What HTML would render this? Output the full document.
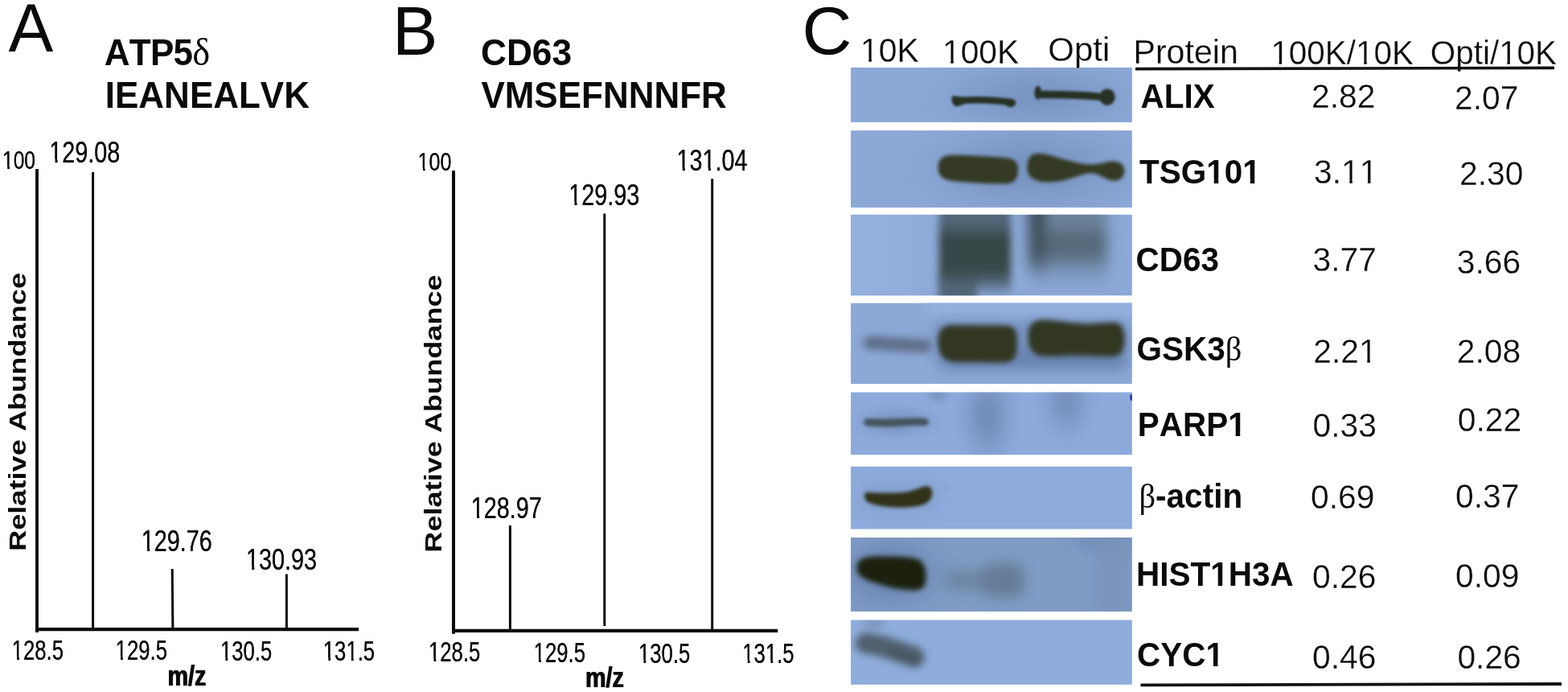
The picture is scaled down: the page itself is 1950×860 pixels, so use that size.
<!DOCTYPE html>
<html lang="en">
<head>
<meta charset="utf-8">
<title>Figure: mass spectra and western blot quantification</title>
<style>
  html, body { margin: 0; padding: 0; background: #ffffff; }
  body { width: 1950px; height: 860px; overflow: hidden; }
  svg { display: block; }
  text { font-family: "Liberation Sans", sans-serif; fill: #0a0a0a; font-kerning: none; }
  .b { font-weight: bold; }
  .sym { font-family: "Liberation Serif", serif; font-weight: normal; }
  .ax { stroke: #0a0a0a; fill: none; }
  .peak { stroke: #0a0a0a; stroke-width: 3; fill: none; }
</style>
</head>
<body>
<svg width="1950" height="860" viewBox="0 0 1950 860">
<defs>
  <filter id="hb" x="-5%" y="-10%" width="110%" height="120%" color-interpolation-filters="sRGB"><feOffset in="SourceGraphic" dx="0.6" dy="0" result="o"/><feMerge><feMergeNode in="SourceGraphic"/><feMergeNode in="o"/></feMerge></filter>
  <filter id="b1" filterUnits="userSpaceOnUse" x="1040" y="60" width="390" height="800" color-interpolation-filters="sRGB"><feGaussianBlur stdDeviation="1.5"/></filter>
  <filter id="b2" filterUnits="userSpaceOnUse" x="1040" y="60" width="390" height="800" color-interpolation-filters="sRGB"><feGaussianBlur stdDeviation="1.9"/></filter>
  <filter id="b3" filterUnits="userSpaceOnUse" x="1040" y="60" width="390" height="800" color-interpolation-filters="sRGB"><feGaussianBlur stdDeviation="3.4"/></filter>
  <filter id="b5" filterUnits="userSpaceOnUse" x="1040" y="60" width="390" height="800" color-interpolation-filters="sRGB"><feGaussianBlur stdDeviation="5"/></filter>
  <filter id="b8" filterUnits="userSpaceOnUse" x="1040" y="60" width="390" height="800" color-interpolation-filters="sRGB"><feGaussianBlur stdDeviation="8"/></filter>
  <clipPath id="c1"><rect x="1058.1" y="83.9" width="349.7" height="68"/></clipPath>
  <clipPath id="c2"><rect x="1058.1" y="162.2" width="349.7" height="95.7"/></clipPath>
  <clipPath id="c3"><rect x="1058.1" y="266.8" width="349.7" height="100.5"/></clipPath>
  <clipPath id="c4"><rect x="1058.1" y="376.7" width="349.7" height="100.3"/></clipPath>
  <clipPath id="c5"><rect x="1058.1" y="487.5" width="349.7" height="77.7"/></clipPath>
  <clipPath id="c6"><rect x="1058.1" y="579.8" width="349.7" height="77.7"/></clipPath>
  <clipPath id="c7"><rect x="1058.1" y="668" width="349.7" height="92"/></clipPath>
  <clipPath id="c8"><rect x="1058.1" y="770.5" width="349.7" height="80.3"/></clipPath>
  <linearGradient id="g3a" x1="0" y1="0" x2="0" y2="1">
    <stop offset="0" stop-color="#5b7188"/>
    <stop offset="0.22" stop-color="#4f6475"/>
    <stop offset="0.40" stop-color="#364546"/>
    <stop offset="0.70" stop-color="#394949"/>
    <stop offset="0.82" stop-color="#4a5e6c" stop-opacity="0.9"/>
    <stop offset="0.95" stop-color="#5f7690" stop-opacity="0.25"/>
    <stop offset="1" stop-color="#5f7690" stop-opacity="0"/>
  </linearGradient>
  <linearGradient id="g3b" x1="0" y1="0" x2="0" y2="1">
    <stop offset="0" stop-color="#6a829c"/>
    <stop offset="0.25" stop-color="#6b829b"/>
    <stop offset="0.42" stop-color="#546776"/>
    <stop offset="0.60" stop-color="#586c7e"/>
    <stop offset="0.80" stop-color="#6f88ab" stop-opacity="0.5"/>
    <stop offset="1" stop-color="#6f88ab" stop-opacity="0"/>
  </linearGradient>
  <linearGradient id="g3c" x1="0" y1="0" x2="0" y2="1">
    <stop offset="0" stop-color="#35454e"/>
    <stop offset="0.7" stop-color="#42545f"/>
    <stop offset="1" stop-color="#42545f" stop-opacity="0"/>
  </linearGradient>
  <linearGradient id="g3l" x1="0" y1="0" x2="1" y2="0">
    <stop offset="0" stop-color="#9bb6e5" stop-opacity="0.55"/>
    <stop offset="0.6" stop-color="#9bb6e5" stop-opacity="0.4"/>
    <stop offset="1" stop-color="#9bb6e5" stop-opacity="0"/>
  </linearGradient>
  <radialGradient id="hd" cx="0.5" cy="0.5" r="0.5">
    <stop offset="0.000" stop-color="#5f79a5" stop-opacity="1.000"/>
    <stop offset="0.111" stop-color="#5f79a5" stop-opacity="0.963"/>
    <stop offset="0.222" stop-color="#5f79a5" stop-opacity="0.860"/>
    <stop offset="0.333" stop-color="#5f79a5" stop-opacity="0.710"/>
    <stop offset="0.444" stop-color="#5f79a5" stop-opacity="0.540"/>
    <stop offset="0.556" stop-color="#5f79a5" stop-opacity="0.376"/>
    <stop offset="0.667" stop-color="#5f79a5" stop-opacity="0.235"/>
    <stop offset="0.778" stop-color="#5f79a5" stop-opacity="0.126"/>
    <stop offset="0.889" stop-color="#5f79a5" stop-opacity="0.049"/>
    <stop offset="1.000" stop-color="#5f79a5" stop-opacity="0.000"/>
  </radialGradient>
</defs>

<g id="panelA">
  <text font-size="82" transform="translate(10.6 64.3) scale(1.02 1.035)">A</text>
  <text class="b" font-size="44" transform="translate(129.7 80.8) scale(1.0 1.042)"><tspan letter-spacing="-0.7">ATP5</tspan><tspan class="sym" font-size="46.5">δ</tspan></text>
  <text class="b" font-size="44" transform="translate(130.8 134.1) scale(1.0 1.043)">IEANEALVK</text>
  <path class="ax" d="M46 210 V785.9" stroke-width="3.9"/><path class="ax" d="M44.1 782.1 H446" stroke-width="4.1"/>
  <path class="peak" d="M115.6 214 V782 M214.2 707 L214.9 782 M356.4 713.5 V782"/>
  <g transform="translate(3 210) scale(0.82 1.037)"><text font-size="30" filter="url(#hb)">100</text><rect x="0.89" y="-3.49" width="6.66" height="4.36" fill="#ffffff"/><rect x="10.93" y="-3.49" width="6.22" height="4.36" fill="#ffffff"/></g>
  <g transform="translate(61.3 201.9) scale(0.8 1.037)"><text font-size="36" filter="url(#hb)">129.08</text><rect x="1.34" y="-3.94" width="7.71" height="4.81" fill="#ffffff"/><rect x="12.98" y="-3.94" width="7.23" height="4.81" fill="#ffffff"/></g>
  <g transform="translate(175.8 684.9) scale(0.8 1.037)"><text font-size="36" filter="url(#hb)">129.76</text><rect x="1.34" y="-3.94" width="7.71" height="4.81" fill="#ffffff"/><rect x="12.98" y="-3.94" width="7.23" height="4.81" fill="#ffffff"/></g>
  <g transform="translate(306 707.7) scale(0.8 1.037)"><text font-size="36" filter="url(#hb)">130.93</text><rect x="1.34" y="-3.94" width="7.71" height="4.81" fill="#ffffff"/><rect x="12.98" y="-3.94" width="7.23" height="4.81" fill="#ffffff"/></g>
  <g transform="translate(14.6 819.7) scale(0.772 1.037)"><text font-size="33.3" filter="url(#hb)">128.5</text><rect x="1.14" y="-3.74" width="7.24" height="4.61" fill="#ffffff"/><rect x="12.09" y="-3.74" width="6.78" height="4.61" fill="#ffffff"/></g>
  <g transform="translate(143.6 819.7) scale(0.772 1.037)"><text font-size="33.3" filter="url(#hb)">129.5</text><rect x="1.14" y="-3.74" width="7.24" height="4.61" fill="#ffffff"/><rect x="12.09" y="-3.74" width="6.78" height="4.61" fill="#ffffff"/></g>
  <g transform="translate(273.9 820.8) scale(0.772 1.037)"><text font-size="33.3" filter="url(#hb)">130.5</text><rect x="1.14" y="-3.74" width="7.24" height="4.61" fill="#ffffff"/><rect x="12.09" y="-3.74" width="6.78" height="4.61" fill="#ffffff"/></g>
  <g transform="translate(401.8 820.8) scale(0.772 1.037)"><text font-size="33.3" filter="url(#hb)">131.5</text><rect x="1.14" y="-3.74" width="7.24" height="4.61" fill="#ffffff"/><rect x="12.09" y="-3.74" width="6.78" height="4.61" fill="#ffffff"/><rect x="38.18" y="-3.74" width="7.24" height="4.61" fill="#ffffff"/><rect x="49.13" y="-3.74" width="6.78" height="4.61" fill="#ffffff"/></g>
  <text class="b" font-size="34.1" transform="translate(208.0 852.0) scale(0.845 1.037)" filter="url(#hb)">m/z</text>
  <text class="b" font-size="30" transform="translate(32.4 685.0) rotate(-90) scale(1.207 1.0)">Relative Abundance</text>
</g>
<g id="panelB">
  <text font-size="81.7" transform="translate(488.0 68.0) scale(1.035 1.045)">B</text>
  <text class="b" font-size="44.3" transform="translate(597.9 80.8) scale(1.0 1.043)">CD63</text>
  <text class="b" font-size="44" transform="translate(598.4 134.1) scale(1.0 1.043)">VMSEFNNNFR</text>
  <path class="ax" d="M564 212 V787.7" stroke-width="4"/><path class="ax" d="M562 783.9 H967.3" stroke-width="4.2"/>
  <path class="peak" d="M634.4 653 V783.9 M751.8 265.6 V778 M885.7 222.3 V783.9"/>
  <g transform="translate(519.6 212.3) scale(0.82 1.037)"><text font-size="30.6" filter="url(#hb)">100</text><rect x="0.93" y="-3.54" width="6.76" height="4.41" fill="#ffffff"/><rect x="11.13" y="-3.54" width="6.32" height="4.41" fill="#ffffff"/></g>
  <g transform="translate(585.8 643.6) scale(0.8 1.037)"><text font-size="36" filter="url(#hb)">128.97</text><rect x="1.34" y="-3.94" width="7.71" height="4.81" fill="#ffffff"/><rect x="12.98" y="-3.94" width="7.23" height="4.81" fill="#ffffff"/></g>
  <g transform="translate(707.2 254.7) scale(0.8 1.037)"><text font-size="36" filter="url(#hb)">129.93</text><rect x="1.34" y="-3.94" width="7.71" height="4.81" fill="#ffffff"/><rect x="12.98" y="-3.94" width="7.23" height="4.81" fill="#ffffff"/></g>
  <g transform="translate(841.5 212.3) scale(0.8 1.037)"><text font-size="36" filter="url(#hb)">131.04</text><rect x="1.34" y="-3.94" width="7.71" height="4.81" fill="#ffffff"/><rect x="12.98" y="-3.94" width="7.23" height="4.81" fill="#ffffff"/><rect x="41.39" y="-3.94" width="7.71" height="4.81" fill="#ffffff"/><rect x="53.03" y="-3.94" width="7.23" height="4.81" fill="#ffffff"/></g>
  <g transform="translate(533 822.1) scale(0.772 1.037)"><text font-size="33.3" filter="url(#hb)">128.5</text><rect x="1.14" y="-3.74" width="7.24" height="4.61" fill="#ffffff"/><rect x="12.09" y="-3.74" width="6.78" height="4.61" fill="#ffffff"/></g>
  <g transform="translate(663.6 822.6) scale(0.772 1.037)"><text font-size="33.3" filter="url(#hb)">129.5</text><rect x="1.14" y="-3.74" width="7.24" height="4.61" fill="#ffffff"/><rect x="12.09" y="-3.74" width="6.78" height="4.61" fill="#ffffff"/></g>
  <g transform="translate(794 823.6) scale(0.772 1.037)"><text font-size="33.3" filter="url(#hb)">130.5</text><rect x="1.14" y="-3.74" width="7.24" height="4.61" fill="#ffffff"/><rect x="12.09" y="-3.74" width="6.78" height="4.61" fill="#ffffff"/></g>
  <g transform="translate(923.3 823.6) scale(0.772 1.037)"><text font-size="33.3" filter="url(#hb)">131.5</text><rect x="1.14" y="-3.74" width="7.24" height="4.61" fill="#ffffff"/><rect x="12.09" y="-3.74" width="6.78" height="4.61" fill="#ffffff"/><rect x="38.18" y="-3.74" width="7.24" height="4.61" fill="#ffffff"/><rect x="49.13" y="-3.74" width="6.78" height="4.61" fill="#ffffff"/></g>
  <text class="b" font-size="34.1" transform="translate(727.4 853.8) scale(0.845 1.037)" filter="url(#hb)">m/z</text>
  <text class="b" font-size="30" transform="translate(548.9 686.7) rotate(-90) scale(1.205 1.0)">Relative Abundance</text>
</g>
<g id="panelC">
<g id="blots">
  <!-- row 1 : ALIX -->
  <rect x="1058.1" y="83.9" width="349.7" height="68" fill="#8ba8d6"/>
  <g clip-path="url(#c1)">
    <ellipse cx="1288" cy="121" rx="170" ry="60" fill="url(#hd)" opacity="0.42"/>
    <g filter="url(#b1)" fill="#273225" stroke="#273225">
      <path d="M1188 125.2 C1200 124.4 1222 123.8 1240 125.2 C1249 125.9 1255 126.8 1259 127.6" stroke-width="8.6" stroke-linecap="round" fill="none"/>
      <path d="M1184.6 120 C1184 124 1185 129.5 1188.5 131.6 C1193 132 1198 128.5 1204 126.5 L1204 122.5 C1198 122 1190 119.5 1184.6 120 Z" stroke-width="1.5" stroke-linejoin="round"/>
      <ellipse cx="1256.5" cy="127.8" rx="6.5" ry="5.4" stroke="none"/>
      <path d="M1293 117.4 C1312 117.6 1340 117.6 1358 119.4 C1366 120.2 1372 120.6 1378 120.7" stroke-width="9.4" stroke-linecap="round" fill="none"/>
      <ellipse cx="1290.8" cy="115.2" rx="4.2" ry="8.6" stroke="none"/>
      <ellipse cx="1377" cy="120.7" rx="9.6" ry="10.4" stroke="none"/>
    </g>
  </g>
  <!-- row 2 : TSG101 -->
  <rect x="1058.1" y="162.2" width="349.7" height="95.7" fill="#8ba8d6"/>
  <g clip-path="url(#c2)">
    <ellipse cx="1283" cy="210" rx="185" ry="78" fill="url(#hd)" opacity="0.46"/>
    <g filter="url(#b2)" fill="#343a24">
      <path d="M1166.6 208 C1166.6 198 1172 192.7 1184 192.7 C1205 192.7 1230 194.3 1252 196.2 C1262 197.2 1266 202 1266 211 C1266 221 1262 228.4 1250 228.4 C1228 228.4 1205 227.3 1186 225.3 C1173 223.8 1166.6 219 1166.6 208 Z"/>
      <path d="M1277.5 208.5 C1277.5 197 1282 190.8 1290 190.8 C1300 190.8 1308 193.5 1316 196 C1328 199.5 1340 202.6 1350 204 C1357 204.8 1364 204.4 1371 202.8 C1377 201.2 1381 200.3 1386 200.6 C1394 201.1 1398.3 206 1398.3 212.5 C1398.3 219.7 1393 224.8 1386 224.8 C1379 224.8 1373 220.5 1366 217.3 C1361 215.2 1356 214.6 1350 216 C1343 217.6 1335 221.4 1322 224.5 C1312 226.3 1303 226.5 1297 226 C1285 225 1277.5 219 1277.5 208.5 Z"/>
    </g>
  </g>
  <!-- row 3 : CD63 -->
  <rect x="1058.1" y="266.8" width="349.7" height="100.5" fill="#8ba8d6"/>
  <g clip-path="url(#c3)">
    <rect x="1058" y="262" width="112" height="110" fill="url(#g3l)"/>
    <g filter="url(#b5)">
      <rect x="1167" y="330" width="48" height="46" rx="8" fill="#42545e" opacity="0.85"/>
      <rect x="1168" y="250" width="89" height="122" rx="8" fill="url(#g3a)"/>
    </g>
    <g filter="url(#b8)">
      <rect x="1282" y="250" width="95" height="112" rx="10" fill="url(#g3b)"/>
      <rect x="1279" y="252" width="20" height="92" rx="8" fill="url(#g3c)"/>
    </g>
  </g>
  <!-- row 4 : GSK3b -->
  <rect x="1058.1" y="376.7" width="349.7" height="100.3" fill="#8ba8d6"/>
  <g clip-path="url(#c4)">
    <g filter="url(#b8)">
      <rect x="1150" y="370" width="270" height="22" fill="#9ab5e4" opacity="0.7"/>
      <rect x="1168" y="436" width="234" height="24" rx="10" fill="#5f7aa6" opacity="0.75"/>
      <rect x="1160" y="398" width="245" height="50" rx="16" fill="#5f79a5" opacity="0.5"/>
    </g>
    <g filter="url(#b5)">
      <path d="M1082 426 C1100 427 1125 428.5 1150 430" stroke="#56657c" stroke-width="17" stroke-linecap="round" fill="none" opacity="0.85"/>
    </g>
    <g filter="url(#b3)" fill="#323722">
      <path d="M1166.5 424 C1166.5 410 1172 404 1186 404 L1250 404.5 C1261 404.5 1265 410 1265 424 L1264.5 434 C1264 445 1259 450.5 1248 450.5 L1190 450 C1175 450 1166.5 442 1166.5 424 Z"/>
      <path d="M1278.5 418 C1278.5 403 1286 397 1298 397.5 C1316 398 1335 402.5 1352 402.5 C1364 402.5 1376 400.5 1386 401 C1396 401.5 1398.5 410 1398.5 421 C1398.5 434 1395 442.5 1384 443 C1368 443.5 1350 441.5 1335 442 C1320 442.5 1306 443.5 1296 442.5 C1284 441 1278.5 433 1278.5 418 Z"/>
    </g>
  </g>
  <!-- row 5 : PARP1 -->
  <rect x="1058.1" y="487.5" width="349.7" height="77.7" fill="#8daadb"/>
  <g clip-path="url(#c5)">
    <ellipse cx="1228" cy="516" rx="46" ry="80" fill="url(#hd)" opacity="0.6"/>
    <ellipse cx="1326" cy="500" rx="44" ry="62" fill="url(#hd)" opacity="0.5"/>
    <ellipse cx="1167" cy="491" rx="22" ry="16" fill="url(#hd)" opacity="0.4"/>
    <ellipse cx="1114" cy="525" rx="70" ry="28" fill="url(#hd)" opacity="0.42"/>
    <g filter="url(#b2)">
      <path d="M1079 524.8 C1095 525.6 1110 525.8 1125 524.6 C1135 523.8 1143 523.6 1150 524.4" stroke="#44535a" stroke-width="9.5" stroke-linecap="round" fill="none"/>
    </g>
    <ellipse cx="1407.2" cy="494" rx="1.9" ry="4" fill="#2a2a9a"/>
  </g>
  <!-- row 6 : b-actin -->
  <rect x="1058.1" y="579.8" width="349.7" height="77.7" fill="#8dabdc"/>
  <g clip-path="url(#c6)">
    <g filter="url(#b8)" opacity="0.5">
      <rect x="1070" y="600" width="96" height="36" rx="12" fill="#7f9ac6"/>
    </g>
    <g filter="url(#b2)">
      <path d="M1078 612.5 C1095 613.5 1115 614 1128 612 C1138 610.5 1146 605.5 1152 605 C1157 604.6 1158.5 608 1158.5 613 C1158.5 620 1153 625.5 1145 627.5 C1130 630.5 1110 630.5 1098 628.5 C1088 626.8 1080 624.5 1077.5 622 C1075.5 619 1075.5 612.5 1078 612.5 Z" fill="#313218" stroke="#313218" stroke-width="1.6" stroke-linejoin="round"/>
      <ellipse cx="1177" cy="606.5" rx="2" ry="1.6" fill="#6e86b0" opacity="0.8"/>
    </g>
  </g>
  <!-- row 7 : HIST1H3A -->
  <rect x="1058.1" y="668" width="349.7" height="92" fill="#7f9cc5"/>
  <g clip-path="url(#c7)">
    <ellipse cx="1108" cy="712" rx="92" ry="64" fill="url(#hd)" opacity="0.75"/>
    <ellipse cx="1375" cy="670" rx="70" ry="32" fill="url(#hd)" opacity="0.42"/>
    <g filter="url(#b8)" opacity="0.85">
      <rect x="1176" y="708" width="56" height="26" rx="10" fill="#6b829e"/>
      <rect x="1222" y="700" width="52" height="42" rx="12" fill="#61778f"/>
      <rect x="1364" y="664" width="40" height="100" fill="#7a93ba"/>
    </g>
    <g filter="url(#b3)">
      <path d="M1065.5 706 C1065.5 695 1074 691.5 1090 691.5 C1108 691.5 1126 691.5 1138 694 C1149 696.5 1151.5 706 1151.5 718 C1151.5 729 1147 733.5 1137 733.5 C1121 733.5 1102 729 1087 724 C1073 719.5 1065.5 715 1065.5 706 Z" fill="#1b210d"/>
    </g>
  </g>
  <!-- row 8 : CYC1 -->
  <rect x="1058.1" y="770.5" width="349.7" height="80.3" fill="#8eacdc"/>
  <g clip-path="url(#c8)">
    <g filter="url(#b5)">
      <path d="M1077 799.5 C1092 800.5 1112 807.5 1137 816.5" stroke="#4a5a65" stroke-width="26" stroke-linecap="round" fill="none" opacity="0.93"/>
      <path d="M1110 812 C1120 815 1130 818 1138 820" stroke="#3f4e56" stroke-width="10" stroke-linecap="round" fill="none" opacity="0.6"/>
      <ellipse cx="1087" cy="775" rx="14" ry="5" fill="#6f88a8" opacity="0.7"/>
    </g>
  </g>
</g>

  <text font-size="83.2" transform="translate(997.6 66.5) scale(1.03 1.01)">C</text>
  <g transform="translate(1070 76.7) scale(1.0 1.037)"><text font-size="41" stroke="#ffffff" stroke-width="0.25">10K</text><rect x="1.72" y="-4.32" width="8.59" height="5.18" fill="#ffffff"/><rect x="13.93" y="-4.32" width="8.07" height="5.18" fill="#ffffff"/></g>
  <g transform="translate(1172 79.2) scale(0.995 1.037)"><text font-size="41" stroke="#ffffff" stroke-width="0.25">100K</text><rect x="1.72" y="-4.32" width="8.59" height="5.18" fill="#ffffff"/><rect x="13.93" y="-4.32" width="8.07" height="5.18" fill="#ffffff"/></g>
  <text font-size="41" transform="translate(1303.2 75.9) scale(1.025 1.037)" stroke="#ffffff" stroke-width="0.25">Opti</text>
  <text font-size="41" transform="translate(1409.4 78.8) scale(1.005 1.037)" stroke="#ffffff" stroke-width="0.25">Protein</text>
  <g transform="translate(1580.4 80.2) scale(0.986 1.037)"><text font-size="41" stroke="#ffffff" stroke-width="0.25">100K/10K</text><rect x="1.72" y="-4.32" width="8.59" height="5.18" fill="#ffffff"/><rect x="13.93" y="-4.32" width="8.07" height="5.18" fill="#ffffff"/><rect x="108.87" y="-4.32" width="8.59" height="5.18" fill="#ffffff"/><rect x="121.08" y="-4.32" width="8.07" height="5.18" fill="#ffffff"/></g>
  <g transform="translate(1778.8 79.8) scale(0.986 1.037)"><text font-size="41" stroke="#ffffff" stroke-width="0.25">Opti/10K</text><rect x="88.31" y="-4.32" width="8.59" height="5.18" fill="#ffffff"/><rect x="100.52" y="-4.32" width="8.07" height="5.18" fill="#ffffff"/></g>
<g id="labels">
  <text class="b" font-size="40.5" transform="translate(1418.5 134.2) scale(1.0 1.037)" fill="#141414">ALIX</text>
  <text font-size="40.8" transform="translate(1631 133.5) scale(1.0 1.037)" stroke="#ffffff" stroke-width="0.25" fill="#141414">2.82</text>
  <text font-size="40.8" transform="translate(1809 136.1) scale(1.0 1.037)" stroke="#ffffff" stroke-width="0.25" fill="#141414">2.07</text>
  <g transform="translate(1417 228) scale(1.0 1.037)"><text class="b" font-size="40.5" fill="#141414">TSG101</text><rect x="84.41" y="-5.39" width="8.30" height="6.25" fill="#ffffff"/><rect x="98.26" y="-5.39" width="7.59" height="6.25" fill="#ffffff"/><rect x="129.45" y="-5.39" width="8.30" height="6.25" fill="#ffffff"/><rect x="143.31" y="-5.39" width="7.59" height="6.25" fill="#ffffff"/></g>
  <g transform="translate(1634 228) scale(1.0 1.037)"><text font-size="40.8" stroke="#ffffff" stroke-width="0.25" fill="#141414">3.11</text><rect x="35.73" y="-4.30" width="8.55" height="5.17" fill="#ffffff"/><rect x="47.89" y="-4.30" width="8.03" height="5.17" fill="#ffffff"/><rect x="58.43" y="-4.30" width="8.55" height="5.17" fill="#ffffff"/><rect x="70.58" y="-4.30" width="8.03" height="5.17" fill="#ffffff"/></g>
  <text font-size="40.8" transform="translate(1815 229.6) scale(1.0 1.037)" stroke="#ffffff" stroke-width="0.25" fill="#141414">2.30</text>
  <text class="b" font-size="40.5" transform="translate(1412.5 336.8) scale(1.0 1.037)" fill="#141414">CD63</text>
  <text font-size="40.8" transform="translate(1632.6 336.8) scale(1.0 1.037)" stroke="#ffffff" stroke-width="0.25" fill="#141414">3.77</text>
  <text font-size="40.8" transform="translate(1811.7 340) scale(1.0 1.037)" stroke="#ffffff" stroke-width="0.25" fill="#141414">3.66</text>
  <text class="b" font-size="40.5" transform="translate(1413.5 448.4) scale(1.0 1.037)" fill="#141414">GSK3<tspan class="sym">β</tspan></text>
  <g transform="translate(1633.3 450.7) scale(1.0 1.037)"><text font-size="40.8" stroke="#ffffff" stroke-width="0.25" fill="#141414">2.21</text><rect x="58.43" y="-4.30" width="8.55" height="5.17" fill="#ffffff"/><rect x="70.58" y="-4.30" width="8.03" height="5.17" fill="#ffffff"/></g>
  <text font-size="40.8" transform="translate(1811.7 450.7) scale(1.0 1.037)" stroke="#ffffff" stroke-width="0.25" fill="#141414">2.08</text>
  <g transform="translate(1414.7 541.9) scale(1.0 1.037)"><text class="b" font-size="40.5" fill="#141414">PARP1</text><rect x="113.67" y="-5.39" width="8.30" height="6.25" fill="#ffffff"/><rect x="127.53" y="-5.39" width="7.59" height="6.25" fill="#ffffff"/></g>
  <text font-size="40.8" transform="translate(1632.6 542.9) scale(1.0 1.037)" stroke="#ffffff" stroke-width="0.25" fill="#141414">0.33</text>
  <text font-size="40.8" transform="translate(1812.7 536.4) scale(1.0 1.037)" stroke="#ffffff" stroke-width="0.25" fill="#141414">0.22</text>
  <text class="b" font-size="40.5" transform="translate(1416.5 631.4) scale(1.0 1.037)" fill="#141414"><tspan class="sym">β</tspan>-actin</text>
  <text font-size="40.8" transform="translate(1630 632.1) scale(1.0 1.037)" stroke="#ffffff" stroke-width="0.25" fill="#141414">0.69</text>
  <text font-size="40.8" transform="translate(1810 631.4) scale(1.0 1.037)" stroke="#ffffff" stroke-width="0.25" fill="#141414">0.37</text>
  <g transform="translate(1413 728.2) scale(1.0 1.037)"><text class="b" font-size="40.5" fill="#141414">HIST1H3A</text><rect x="93.40" y="-5.39" width="8.30" height="6.25" fill="#ffffff"/><rect x="107.26" y="-5.39" width="7.59" height="6.25" fill="#ffffff"/></g>
  <text font-size="40.8" transform="translate(1632 731.4) scale(1.0 1.037)" stroke="#ffffff" stroke-width="0.25" fill="#141414">0.26</text>
  <text font-size="40.8" transform="translate(1810 730.4) scale(1.0 1.037)" stroke="#ffffff" stroke-width="0.25" fill="#141414">0.09</text>
  <g transform="translate(1414 828.1) scale(1.0 1.037)"><text class="b" font-size="40.5" fill="#141414">CYC1</text><rect x="86.66" y="-5.39" width="8.30" height="6.25" fill="#ffffff"/><rect x="100.52" y="-5.39" width="7.59" height="6.25" fill="#ffffff"/></g>
  <text font-size="40.8" transform="translate(1632 831.4) scale(1.0 1.037)" stroke="#ffffff" stroke-width="0.25" fill="#141414">0.46</text>
  <text font-size="40.8" transform="translate(1812.4 831.4) scale(1.0 1.037)" stroke="#ffffff" stroke-width="0.25" fill="#141414">0.26</text>
</g>
  <path d="M1412 85.6 L1933 84.4" stroke="#141414" stroke-width="3.6" fill="none"/>
  <path d="M1418.5 851.4 L1942 850" stroke="#141414" stroke-width="3.8" fill="none"/>
</g>
</svg>
</body>
</html>
